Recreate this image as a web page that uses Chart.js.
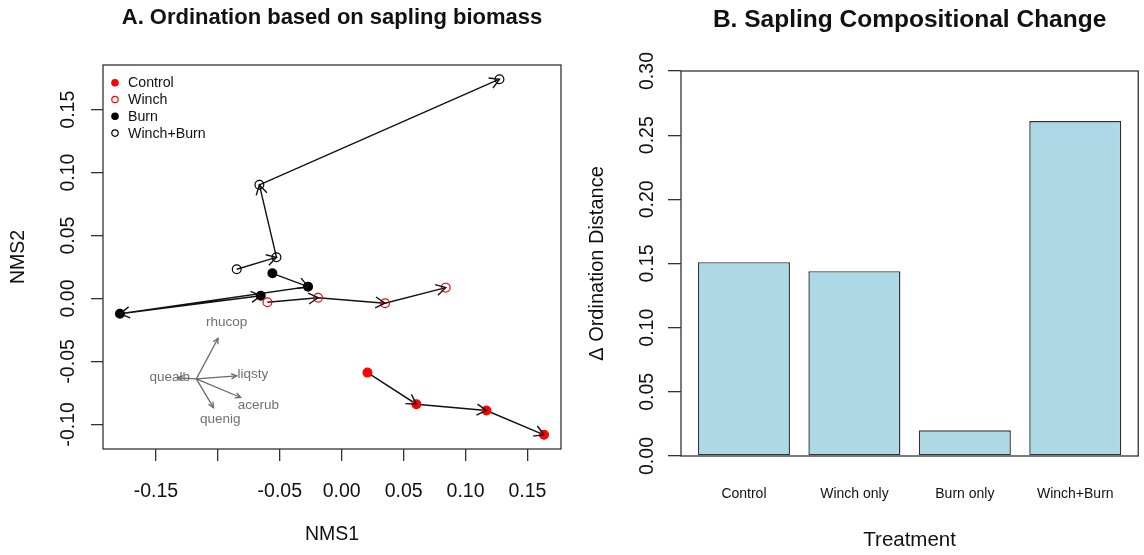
<!DOCTYPE html>
<html>
<head>
<meta charset="utf-8">
<script src="https://cdn.jsdelivr.net/npm/chart.js@4"></script>
<style>
  html, body { margin: 0; padding: 0; background: #fff; }
  #wrap { position: relative; width: 1144px; height: 555px; }
  .panel { position: absolute; top: 0; height: 555px; }
  #panelA { left: 0; width: 580px; }
  #panelB { left: 580px; width: 564px; }
</style>
</head>
<body>
<div id="wrap">
  <div class="panel" id="panelA"><canvas id="ordChart"></canvas></div>
  <div class="panel" id="panelB"><canvas id="barChart"></canvas></div>
</div>
<script>
// NMS scores for each treatment, in sampling order
const controlX = [0.0208, 0.0603, 0.1169, 0.1634];
const controlY = [-0.0589, -0.0840, -0.0890, -0.1083];
const winchX = [-0.0600, -0.0191, 0.0350, 0.0840];
const winchY = [-0.0030, 0.0006, -0.0038, 0.0086];
const burnX = [-0.0560, -0.0272, -0.1791, -0.0654];
const burnY = [0.0200, 0.0094, -0.0121, 0.0022];
const winchBurnX = [-0.0848, -0.0527, -0.0665, 0.1274];
const winchBurnY = [0.0232, 0.0327, 0.0903, 0.1742];

// species vectors (drawn from a common origin)
const speciesNames = ['rhucop', 'liqsty', 'acerub', 'quenig', 'quealb'];
const vectorOrigin = [-0.1174, -0.0639];
const speciesX = [-0.0999, -0.0848, -0.0816, -0.1036, -0.1327];
const speciesY = [-0.0316, -0.0615, -0.0787, -0.0867, -0.0631];

const nmsXTicks = [-0.15, -0.10, -0.05, 0.00, 0.05, 0.10, 0.15];
const nmsXLabels = ['-0.15', '', '-0.05', '0.00', '0.05', '0.10', '0.15'];
const nmsYTicks = [-0.10, -0.05, 0.00, 0.05, 0.10, 0.15];

// panel B
const treatments = ['Control', 'Winch only', 'Burn only', 'Winch+Burn'];
const deltaDistance = [0.151, 0.144, 0.020, 0.261];
const barPositions = [0.7, 1.9, 3.1, 4.3];
const distTicks = [0.00, 0.05, 0.10, 0.15, 0.20, 0.25, 0.30];

const FONT = 'Liberation Sans, Arial, Helvetica, sans-serif';
Chart.defaults.font.family = FONT;
Chart.defaults.color = '#111';

// R style axis limits: data range plus 4% each side
function rLimits(values) {
    const lo = Math.min(...values), hi = Math.max(...values);
    const pad = (hi - lo) * 0.04;
    return [lo - pad, hi + pad];
}
const xLim = rLimits([...controlX, ...winchX, ...burnX, ...winchBurnX]);
const yLim = rLimits([...controlY, ...winchY, ...burnY, ...winchBurnY]);
const barLim = rLimits([barPositions[0] - 0.5, barPositions[barPositions.length - 1] + 0.5]);

function toPoints(xs, ys) {
    return xs.map((x, i) => ({ x: x, y: ys[i] }));
}

function groupDataset(label, xs, ys, color, filled) {
    return {
        label: label,
        data: toPoints(xs, ys),
        showLine: true,
        borderColor: '#111',
        borderWidth: 1.4,
        pointRadius: 4.4,
        pointHoverRadius: 4.4,
        pointBorderColor: color,
        pointBackgroundColor: filled ? color : 'rgba(0,0,0,0)',
        pointBorderWidth: 1.2,
        arrowHead: 11,
        arrowSpread: Math.PI / 6,
        inLegend: true,
        filled: filled,
        legendColor: color
    };
}

const groupDatasets = [
    groupDataset('Control', controlX, controlY, '#ff0000', true),
    groupDataset('Winch', winchX, winchY, '#ff0000', false),
    groupDataset('Burn', burnX, burnY, '#000000', true),
    groupDataset('Winch+Burn', winchBurnX, winchBurnY, '#000000', false)
];

const vectorDatasets = speciesNames.map((name, i) => ({
    label: name,
    data: [{ x: vectorOrigin[0], y: vectorOrigin[1] }, { x: speciesX[i], y: speciesY[i] }],
    showLine: true,
    borderColor: '#6a6a6a',
    borderWidth: 1.3,
    pointRadius: 0,
    arrowHead: 6,
    arrowSpread: Math.PI / 7,
    vectorLabel: true
}));

// open arrow heads at the end of every segment
const arrowPlugin = {
    id: 'arrowHeads',
    afterDatasetsDraw(chart) {
        const ctx = chart.ctx;
        chart.data.datasets.forEach((ds, di) => {
            if (!ds.arrowHead) return;
            const pts = chart.getDatasetMeta(di).data;
            ctx.save();
            ctx.strokeStyle = ds.borderColor;
            ctx.lineWidth = ds.borderWidth;
            for (let i = 1; i < pts.length; i++) {
                const a = pts[i - 1], b = pts[i];
                const ang = Math.atan2(b.y - a.y, b.x - a.x);
                const len = ds.arrowHead, sp = ds.arrowSpread;
                ctx.beginPath();
                ctx.moveTo(b.x - len * Math.cos(ang - sp), b.y - len * Math.sin(ang - sp));
                ctx.lineTo(b.x, b.y);
                ctx.lineTo(b.x - len * Math.cos(ang + sp), b.y - len * Math.sin(ang + sp));
                ctx.stroke();
            }
            ctx.restore();
        });
    }
};

// species names just beyond the arrow tips
const vectorLabelPlugin = {
    id: 'vectorLabels',
    afterDatasetsDraw(chart) {
        const ctx = chart.ctx;
        ctx.save();
        ctx.font = '13.5px ' + FONT;
        ctx.fillStyle = '#707070';
        ctx.textAlign = 'center';
        ctx.textBaseline = 'middle';
        chart.data.datasets.forEach((ds, di) => {
            if (!ds.vectorLabel) return;
            const [o, t] = chart.getDatasetMeta(di).data;
            ctx.fillText(ds.label, o.x + (t.x - o.x) * 1.4, o.y + (t.y - o.y) * 1.4);
        });
        ctx.restore();
    }
};

// legend inside the plot, top left, no box
const groupLegendPlugin = {
    id: 'groupLegend',
    afterDraw(chart, args, opts) {
        if (!opts.show) return;
        const { ctx, chartArea } = chart;
        ctx.save();
        ctx.font = opts.fontSize + 'px ' + FONT;
        ctx.textBaseline = 'middle';
        ctx.textAlign = 'left';
        let row = 0;
        chart.data.datasets.forEach(ds => {
            if (!ds.inLegend) return;
            const x = chartArea.left + opts.left;
            const y = chartArea.top + opts.top + row * opts.rowGap;
            ctx.beginPath();
            ctx.arc(x, y, opts.radius, 0, Math.PI * 2);
            ctx.lineWidth = 1.2;
            ctx.strokeStyle = ds.legendColor;
            if (ds.filled) {
                ctx.fillStyle = ds.legendColor;
                ctx.fill();
            }
            ctx.stroke();
            ctx.fillStyle = '#111';
            ctx.fillText(ds.label, chartArea.left + opts.textLeft, y + 0.5);
            row++;
        });
        ctx.restore();
    }
};

const framePlugin = {
    id: 'frame',
    afterDraw(chart) {
        const { ctx, chartArea: a } = chart;
        ctx.save();
        ctx.strokeStyle = '#333';
        ctx.lineWidth = 1.3;
        ctx.strokeRect(a.left, a.top, a.right - a.left, a.bottom - a.top);
        ctx.restore();
    }
};

new Chart(document.getElementById('ordChart'), {
    type: 'scatter',
    data: { datasets: [...groupDatasets, ...vectorDatasets] },
    options: {
        responsive: true,
        maintainAspectRatio: false,
        animation: false,
        layout: { padding: { left: 0, right: 19, top: 0, bottom: 0 } },
        plugins: {
            legend: { display: false },
            tooltip: { enabled: false },
            title: {
                display: true,
                fullSize: false,
                text: 'A. Ordination based on sapling biomass',
                color: '#111',
                font: { size: 22, weight: 'bold' },
                padding: { top: 5, bottom: 33.6 }
            },
            groupLegend: { show: true, left: 12, top: 17.7, rowGap: 16.8, radius: 3.2, textLeft: 25, fontSize: 14.2 }
        },
        scales: {
            x: {
                type: 'linear',
                bounds: 'data',
                min: xLim[0],
                max: xLim[1],
                afterBuildTicks: s => { s.ticks = nmsXTicks.map(v => ({ value: v })); },
                afterFit: s => { s.height = 106; },
                ticks: {
                    autoSkip: false,
                    maxRotation: 0,
                    padding: 19,
                    color: '#111',
                    font: { size: 19.5 },
                    callback: (v, i) => nmsXLabels[i]
                },
                grid: { drawOnChartArea: false, tickLength: 12, color: '#333', lineWidth: 1.3 },
                border: { display: false },
                title: { display: true, text: 'NMS1', color: '#111', font: { size: 19.5 }, padding: { top: 0, bottom: 8.6 } }
            },
            y: {
                type: 'linear',
                bounds: 'data',
                min: yLim[0],
                max: yLim[1],
                afterBuildTicks: s => { s.ticks = nmsYTicks.map(v => ({ value: v })); },
                afterFit: s => { s.width = 103; },
                ticks: {
                    autoSkip: false,
                    minRotation: 90,
                    maxRotation: 90,
                    crossAlign: 'center',
                    padding: 0.5,
                    color: '#111',
                    font: { size: 19.5 },
                    callback: v => v.toFixed(2)
                },
                grid: { drawOnChartArea: false, tickLength: 12, color: '#333', lineWidth: 1.3 },
                border: { display: false },
                title: { display: true, text: 'NMS2', color: '#111', font: { size: 19.5 }, padding: { top: 6.6, bottom: 0 } }
            }
        }
    },
    plugins: [arrowPlugin, vectorLabelPlugin, groupLegendPlugin, framePlugin]
});

new Chart(document.getElementById('barChart'), {
    type: 'bar',
    data: {
        datasets: [{
            label: 'Δ Ordination Distance',
            data: toPoints(barPositions, deltaDistance),
            backgroundColor: '#add8e6',
            borderColor: '#333',
            borderWidth: 1.4,
            borderSkipped: false,
            categoryPercentage: 1,
            barPercentage: 1 / 1.2
        }]
    },
    options: {
        responsive: true,
        maintainAspectRatio: false,
        animation: false,
        layout: { padding: { left: 0, right: 4, top: 0, bottom: 0 } },
        plugins: {
            legend: { display: false },
            tooltip: { enabled: false },
            title: {
                display: true,
                fullSize: false,
                text: 'B. Sapling Compositional Change',
                color: '#111',
                font: { size: 24.5, weight: 'bold' },
                padding: { top: 5.5, bottom: 36.1 }
            }
        },
        scales: {
            x: {
                type: 'linear',
                bounds: 'data',
                offset: false,
                min: barLim[0],
                max: barLim[1],
                afterBuildTicks: s => { s.ticks = barPositions.map(v => ({ value: v })); },
                afterFit: s => { s.height = 99; },
                ticks: {
                    autoSkip: false,
                    maxRotation: 0,
                    padding: 29.6,
                    color: '#111',
                    font: { size: 14 },
                    callback: (v, i) => treatments[i]
                },
                grid: { display: false, drawTicks: false },
                border: { display: false },
                title: { display: true, text: 'Treatment', color: '#111', font: { size: 20.5 }, padding: { top: 0, bottom: 2 } }
            },
            y: {
                type: 'linear',
                bounds: 'data',
                min: 0,
                max: 0.30,
                afterBuildTicks: s => { s.ticks = distTicks.map(v => ({ value: v })); },
                afterFit: s => { s.width = 101; },
                ticks: {
                    autoSkip: false,
                    minRotation: 90,
                    maxRotation: 90,
                    crossAlign: 'center',
                    padding: 1.5,
                    color: '#111',
                    font: { size: 19.5 },
                    callback: v => v.toFixed(2)
                },
                grid: { drawOnChartArea: false, tickLength: 13, color: '#333', lineWidth: 1.3 },
                border: { display: false },
                title: { display: true, text: 'Δ Ordination Distance', color: '#111', font: { size: 20 }, padding: { top: 5, bottom: 0 } }
            }
        }
    },
    plugins: [framePlugin]
});
</script>
</body>
</html>
